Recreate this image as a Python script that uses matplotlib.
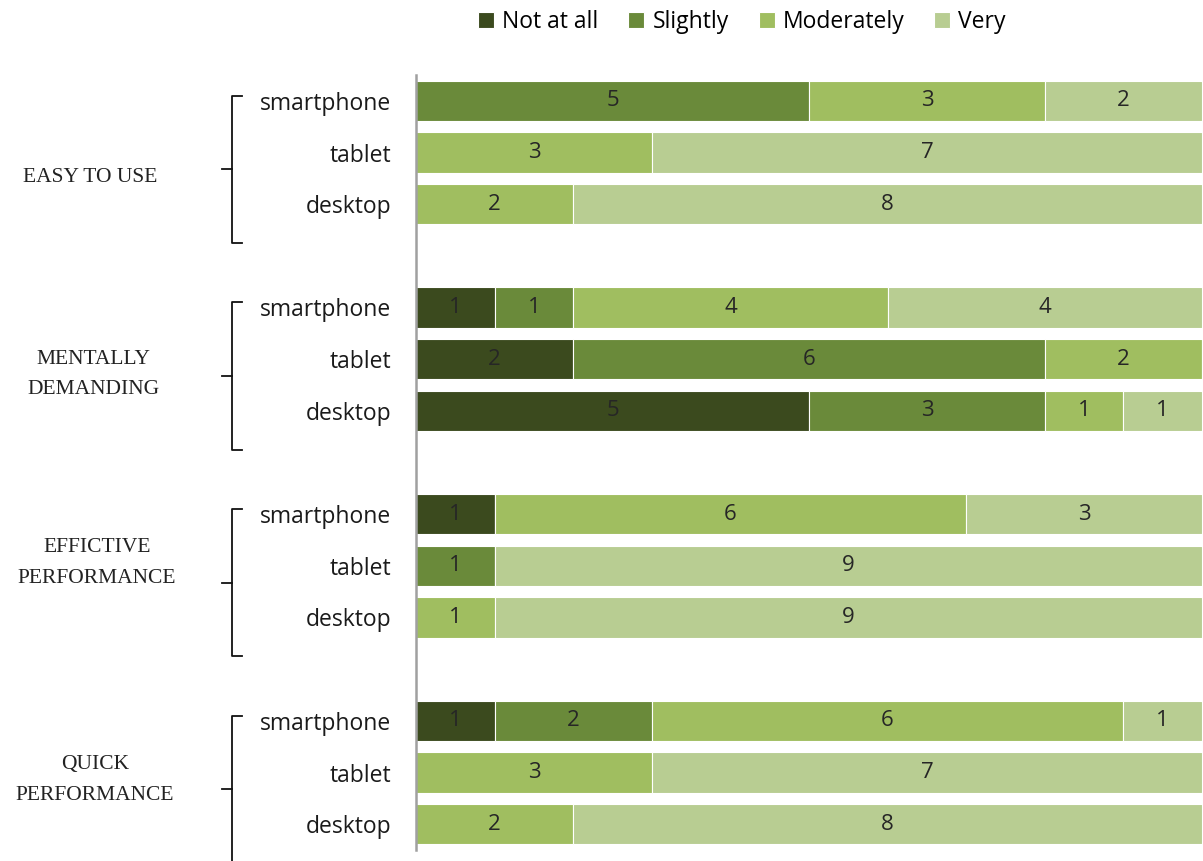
import matplotlib
matplotlib.use("Agg")
import matplotlib.pyplot as plt
import matplotlib.transforms as mtransforms
from matplotlib.lines import Line2D
import numpy as np

categories = ["Not at all", "Slightly", "Moderately", "Very"]
colors = ["#3B4A1E", "#6A8A3A", "#A0BE60", "#B8CD92"]
groups = ["EASY TO USE", "MENTALLY\nDEMANDING", "EFFICTIVE\nPERFORMANCE", "QUICK\nPERFORMANCE"]
devices = ["smartphone", "tablet", "desktop"]

not_at_all = [0, 0, 0, 1, 2, 5, 1, 0, 0, 1, 0, 0]
slightly   = [5, 0, 0, 1, 6, 3, 0, 1, 0, 2, 0, 0]
moderately = [3, 3, 2, 4, 2, 1, 6, 0, 1, 6, 3, 2]
very       = [2, 7, 8, 4, 0, 1, 3, 9, 9, 1, 7, 8]

series = [not_at_all, slightly, moderately, very]

W, H = 1203, 861
fig = plt.figure(figsize=(W / 100, H / 100), dpi=100)
ax = fig.add_axes([416 / W, 1 - 850 / H, (1202 - 416) / W, (850 - 75) / H])

# y positions: 3 rows per group, one empty slot between groups
ypos = []
for g in range(len(groups)):
    for d in range(len(devices)):
        ypos.append(g * 4 + d)
ypos = np.array(ypos)

left = np.zeros(len(ypos))
for cat, vals, col in zip(categories, series, colors):
    vals = np.array(vals, dtype=float)
    ax.barh(ypos, vals, left=left, height=0.78, color=col,
            edgecolor="white", linewidth=0.8, label=cat)
    for y, l, v in zip(ypos, left, vals):
        if v > 0:
            ax.text(l + v / 2, y, f"{int(v)}", ha="center", va="center",
                    fontsize=16, color="#262626", family="Open Sans")
    left += vals

ax.set_xlim(0, 10)
ax.set_ylim(14.5, -0.5)
ax.set_xticks([])
ax.set_yticks(ypos)
ax.set_yticklabels(devices * len(groups), fontsize=16.5, family="Open Sans", color="#1a1a1a")
ax.tick_params(axis="y", length=0, pad=18)
for s in ["top", "right", "bottom"]:
    ax.spines[s].set_visible(False)
ax.spines["left"].set_color("#A0A0A0")
ax.spines["left"].set_linewidth(1.8)

# braces and group labels
trans = mtransforms.blended_transform_factory(fig.transFigure, ax.transData)
bx = 232 / W
hook = 10 / W
label_offsets = [0.15, -0.03, -0.38, -0.18]
label_x = [90, 93, 97, 95]
for g, name in enumerate(groups):
    top = g * 4 - 0.1
    bot = g * 4 + 2.75
    mid = (top + bot) / 2
    fig.add_artist(Line2D([bx + hook, bx, bx, bx + hook], [top, top, bot, bot],
                          transform=trans, color="#111111", lw=1.3))
    fig.add_artist(Line2D([bx - hook, bx], [mid, mid], transform=trans,
                          color="#111111", lw=1.3))
    fig.text(label_x[g] / W, mid + label_offsets[g], name, transform=trans,
             ha="center", va="center", fontsize=15.5, family="Liberation Serif",
             color="#222222", linespacing=1.8)

fig.legend(loc="upper center", bbox_to_anchor=(742 / W, 1.012), ncol=4, frameon=False,
           prop={"family": "Open Sans", "size": 16.5},
           handlelength=0.7, handleheight=0.7, handletextpad=0.35, columnspacing=1.3)

fig.savefig("out.png", dpi=100)
